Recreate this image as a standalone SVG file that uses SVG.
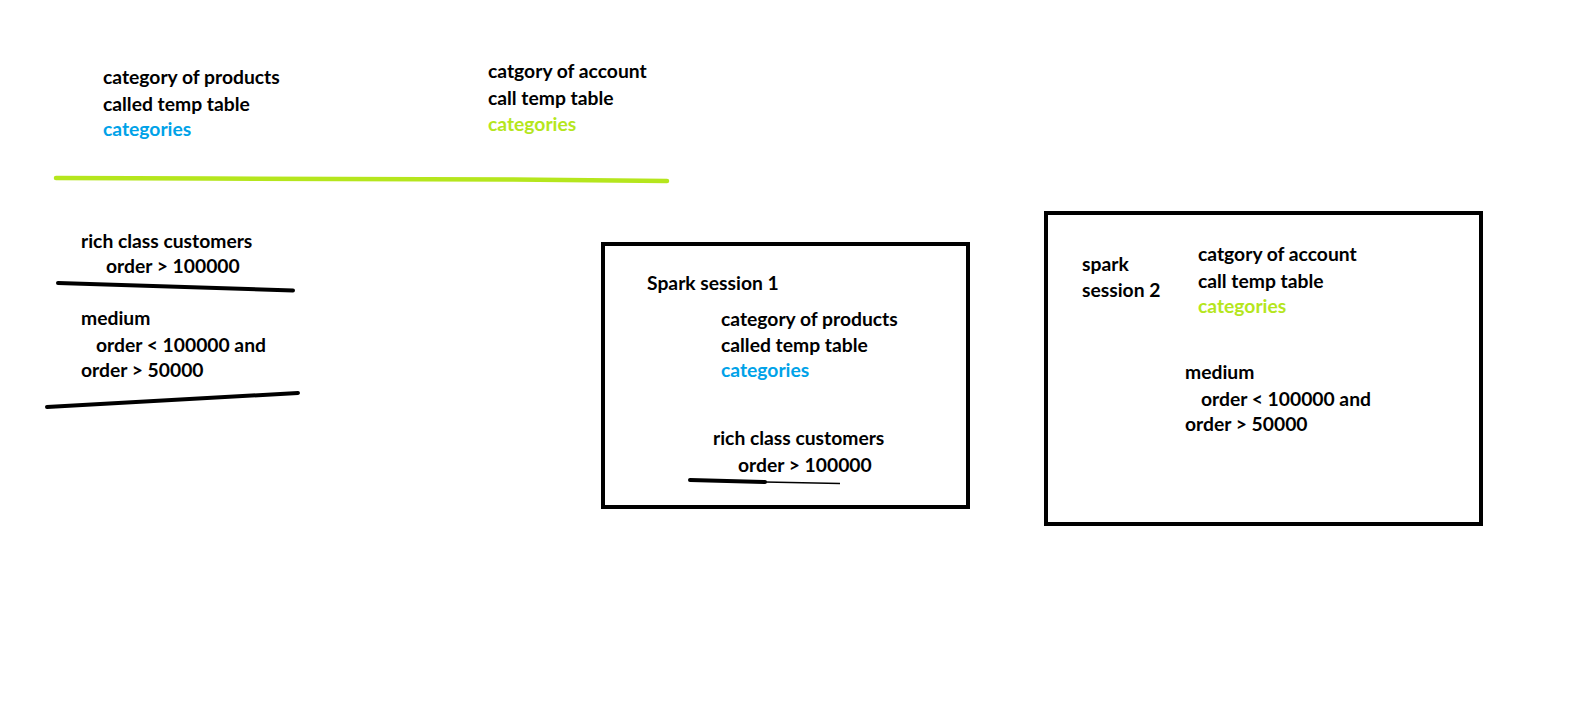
<svg xmlns="http://www.w3.org/2000/svg" width="1594" height="723" viewBox="0 0 1594 723">
<style>
text{font-family:Lato,"Liberation Sans",sans-serif;font-weight:bold;font-size:19.3px;fill:#000}
.blue{fill:#00A2E8}
.lime{fill:#B5E61D}
.box{fill:none;stroke:#000;stroke-width:4}
.ink{fill:none;stroke:#000;stroke-width:4;stroke-linecap:round}
.gl{fill:none;stroke:#B5E61D;stroke-width:4.5;stroke-linecap:round}
</style>
<rect width="1594" height="723" fill="#fff"/>
<g id="connectors">
<polyline class="gl" points="56,178 208,178.5 513,179.5 667,181"/>
<path class="ink" d="M58,283 L293,290.5"/>
<path class="ink" d="M47,407 L298,393"/>
<path class="ink" d="M690,480 L765,482" stroke-width="3.5"/>
<path d="M765,482 L840,483.5" fill="none" stroke="#000" stroke-width="1.5"/>
</g>
<g id="note-products">
<text x="103" y="84">category of products</text>
<text x="103" y="111">called temp table</text>
<text x="103" y="136" class="blue">categories</text>
</g>
<g id="note-account">
<text x="488" y="78">catgory of account</text>
<text x="488" y="105">call temp table</text>
<text x="488" y="131" class="lime">categories</text>
</g>
<g id="note-rich">
<text x="81" y="248">rich class customers</text>
<text x="106" y="273">order &gt; 100000</text>
</g>
<g id="note-medium">
<text x="81" y="325">medium</text>
<text x="96" y="352">order &lt; 100000 and</text>
<text x="81" y="377">order &gt; 50000</text>
</g>
<g id="spark-session-1">
<rect class="box" x="603" y="244" width="365" height="263"/>
<text x="647" y="290">Spark session 1</text>
<text x="721" y="326">category of products</text>
<text x="721" y="352">called temp table</text>
<text x="721" y="377" class="blue">categories</text>
<text x="713" y="445">rich class customers</text>
<text x="738" y="472">order &gt; 100000</text>
</g>
<g id="spark-session-2">
<rect class="box" x="1046" y="213" width="435" height="311"/>
<text x="1082" y="271">spark</text>
<text x="1082" y="297">session 2</text>
<text x="1198" y="261">catgory of account</text>
<text x="1198" y="288">call temp table</text>
<text x="1198" y="313" class="lime">categories</text>
<text x="1185" y="379">medium</text>
<text x="1201" y="406">order &lt; 100000 and</text>
<text x="1185" y="431">order &gt; 50000</text>
</g>
</svg>
